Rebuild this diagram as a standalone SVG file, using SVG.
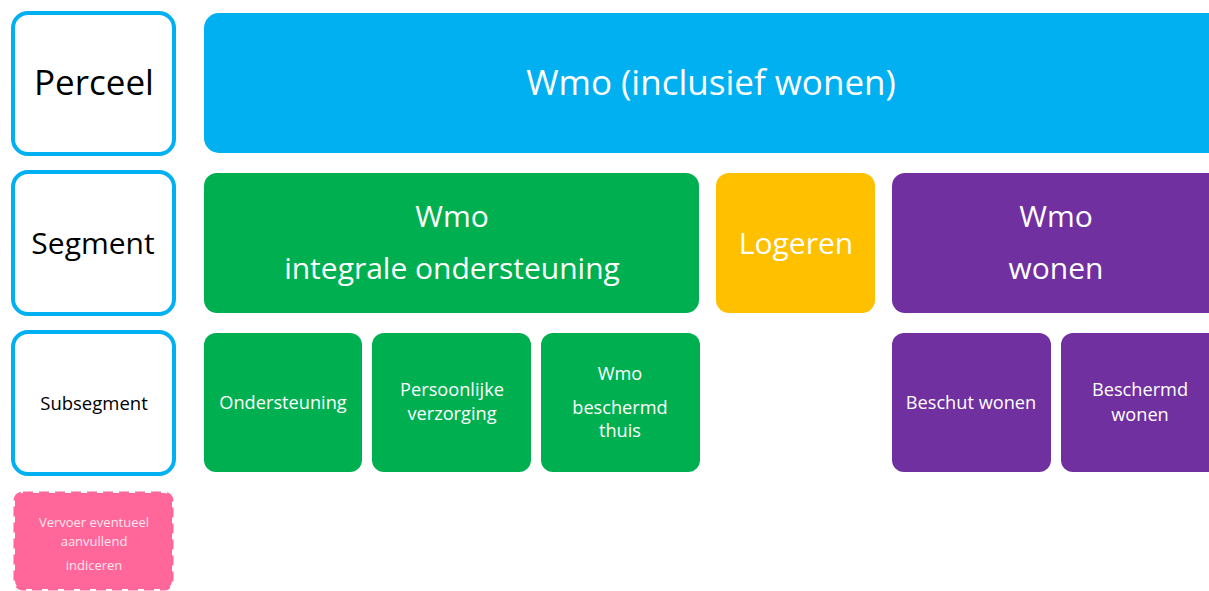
<svg xmlns="http://www.w3.org/2000/svg" width="1209" height="591" viewBox="0 0 1209 591">
<style>
text{font-family:"Open Sans","Noto Sans","Liberation Sans",sans-serif;text-anchor:middle;dominant-baseline:central}
.lbl{fill:#fff;stroke:#00B0F0;stroke-width:4}
.w{fill:#fff}
.k{fill:#000}
.blue{fill:#00B0F0}
.green{fill:#00B050}
.yellow{fill:#FFC000}
.purple{fill:#7030A0}
.big{font-size:35px}
.mid{font-size:30px}
.sm{font-size:18.2px}
</style>
<rect width="1209" height="591" fill="#fff"/>
<g id="perceel"><rect class="lbl" x="13" y="13" width="161" height="141" rx="15"/><text class="k big" x="94" y="81">Perceel</text></g>
<g id="segment"><rect class="lbl" x="13" y="172" width="161" height="142" rx="15"/><text class="k mid" x="93" y="242">Segment</text></g>
<g id="subsegment"><rect class="lbl" x="13" y="332" width="161" height="142" rx="15"/><text class="k" style="font-size:18.5px" x="94" y="402">Subsegment</text></g>
<g id="vervoer"><rect x="15" y="493" width="157" height="96" rx="8" fill="#FF6699" stroke="#FF6699" stroke-width="3" stroke-dasharray="10,6"/>
<text fill="#FFE6F0" style="font-size:13px" x="94" y="522">Vervoer eventueel</text>
<text fill="#FFE6F0" style="font-size:13px" x="94" y="541">aanvullend</text>
<text fill="#FFE6F0" style="font-size:13px" x="94" y="565">indiceren</text></g>
<g id="wmo-perceel"><rect class="blue" x="204" y="13" width="1030" height="140" rx="15"/><text class="w big" x="711" y="81">Wmo (inclusief wonen)</text></g>
<g id="wmo-integraal"><rect class="green" x="204" y="173" width="495" height="140" rx="13"/><text class="w mid" x="452" y="215">Wmo</text><text class="w mid" x="452" y="267">integrale ondersteuning</text></g>
<g id="logeren"><rect class="yellow" x="716" y="173" width="159" height="140" rx="13"/><text class="w mid" x="796" y="242">Logeren</text></g>
<g id="wmo-wonen"><rect class="purple" x="892" y="173" width="340" height="140" rx="13"/><text class="w mid" x="1056" y="215">Wmo</text><text class="w mid" x="1056" y="267">wonen</text></g>
<g id="ondersteuning"><rect class="green" x="204" y="333" width="158" height="139" rx="12"/><text class="w sm" x="283" y="402">Ondersteuning</text></g>
<g id="persoonlijke-verzorging"><rect class="green" x="372" y="333" width="159" height="139" rx="12"/><text class="w sm" x="452" y="389">Persoonlijke</text><text class="w sm" x="452" y="413">verzorging</text></g>
<g id="wmo-beschermd-thuis"><rect class="green" x="541" y="333" width="159" height="139" rx="12"/><text class="w sm" x="620" y="373">Wmo</text><text class="w sm" x="620" y="407">beschermd</text><text class="w sm" x="620" y="430">thuis</text></g>
<g id="beschut-wonen"><rect class="purple" x="892" y="333" width="159" height="139" rx="12"/><text class="w sm" x="971" y="402">Beschut wonen</text></g>
<g id="beschermd-wonen"><rect class="purple" x="1061" y="333" width="170" height="139" rx="12"/><text class="w sm" x="1140" y="389">Beschermd</text><text class="w sm" x="1140" y="414">wonen</text></g>
<g id="connectors"/>
</svg>
